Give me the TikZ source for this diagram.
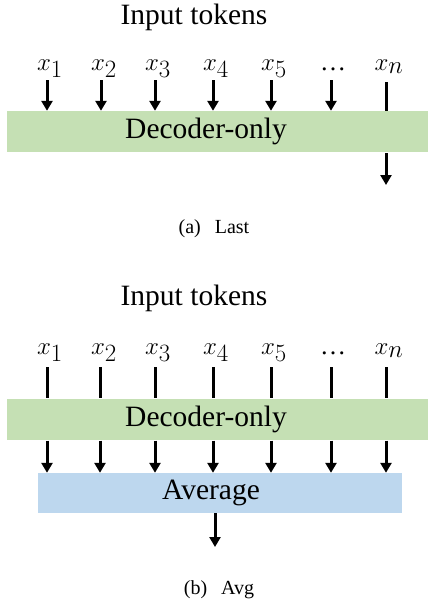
\documentclass[tikz,border=0pt]{standalone}
\usepackage{fontspec}
\setmainfont{Liberation Serif}
\usetikzlibrary{arrows.meta}
\definecolor{decgreen}{HTML}{C5E0B4}
\definecolor{avgblue}{HTML}{BDD7EE}
\begin{document}
\begin{tikzpicture}[x=1pt,y=-1pt,
  title/.style={font=\fontsize{29.5}{32}\selectfont, inner sep=0pt},
  tok/.style={font=\fontsize{33}{36}\selectfont, inner sep=0pt, anchor=base},
  dotstok/.style={font=\fontsize{26}{30}\selectfont, inner sep=0pt, anchor=base},
  captext/.style={font=\fontsize{20}{22}\selectfont, inner sep=0pt},
  decbox/.style={fill=decgreen, draw=none, minimum width=421pt, minimum height=41pt, inner sep=0pt},
  avgbox/.style={fill=avgblue, draw=none, minimum width=364pt, minimum height=40pt, inner sep=0pt},
  boxlab/.style={font=\fontsize{29.5}{32}\selectfont, inner sep=0pt},
  arr/.style={line width=3pt, -{Triangle[width=11pt,length=10pt]}},
  ln/.style={line width=3pt}]
\useasboundingbox (0,0) rectangle (428,605);
% ---------- (a) Last ----------
\node[title] (ta) at (194,17) {Input tokens};
\node[decbox] (deca) at (217.5,131.5) {};
\node[boxlab] (decalab) at (206,131.5) {Decoder-only};
\foreach \i/\x/\lab in {1/47,2/101,3/155,4/213,5/271}{
  \node[tok] (a\i) at (\x+3,70) {$x_{\i}$};
}
\node[tok] (a7) at (389,70) {$x_n$};
\node[dotstok] (a6) at (333,70) {\dots};
\foreach \i/\x in {1/47,2/101,3/155,4/213,5/271,6/331}{
  \coordinate (as\i) at (\x,80);
  \draw[arr] (as\i) -- (as\i |- deca.north);
}
\coordinate (as7) at (386,82);
\draw[ln] (as7) -- (as7 |- deca.north);
\coordinate (aout) at (386,185);
\draw[arr] (aout |- deca.south) ++(0,1) -- (aout);
\node[captext] (capa) at (214,229) {(a)\hspace{0.7em}Last};
% ---------- (b) Avg ----------
\node[title] (tb) at (194,298) {Input tokens};
\node[decbox] (decb) at (217.5,419) {};
\node[boxlab] (decblab) at (206,419) {Decoder-only};
\node[avgbox] (avg) at (220,493) {};
\node[boxlab] (avglab) at (211,493) {Average};
\foreach \i/\x in {1/47,2/101,3/155,4/213,5/271}{
  \node[tok] (b\i) at (\x+3,354) {$x_{\i}$};
}
\node[tok] (b7) at (389,354) {$x_n$};
\node[dotstok] (b6) at (333,354) {\dots};
\foreach \i/\x in {1/47,2/100,3/155,4/213,5/271,6/331,7/386}{
  \coordinate (bs\i) at (\x,367);
  \draw[ln] (bs\i) -- (bs\i |- decb.north);
  \draw[arr] (bs\i |- decb.south) ++(0,1) -- (bs\i |- avg.north);
}
\coordinate (bout) at (215,547);
\draw[arr] (bout |- avg.south) -- (bout);
\node[captext] (capb) at (219,590) {(b)\hspace{0.7em}Avg};
\end{tikzpicture}
\end{document}
